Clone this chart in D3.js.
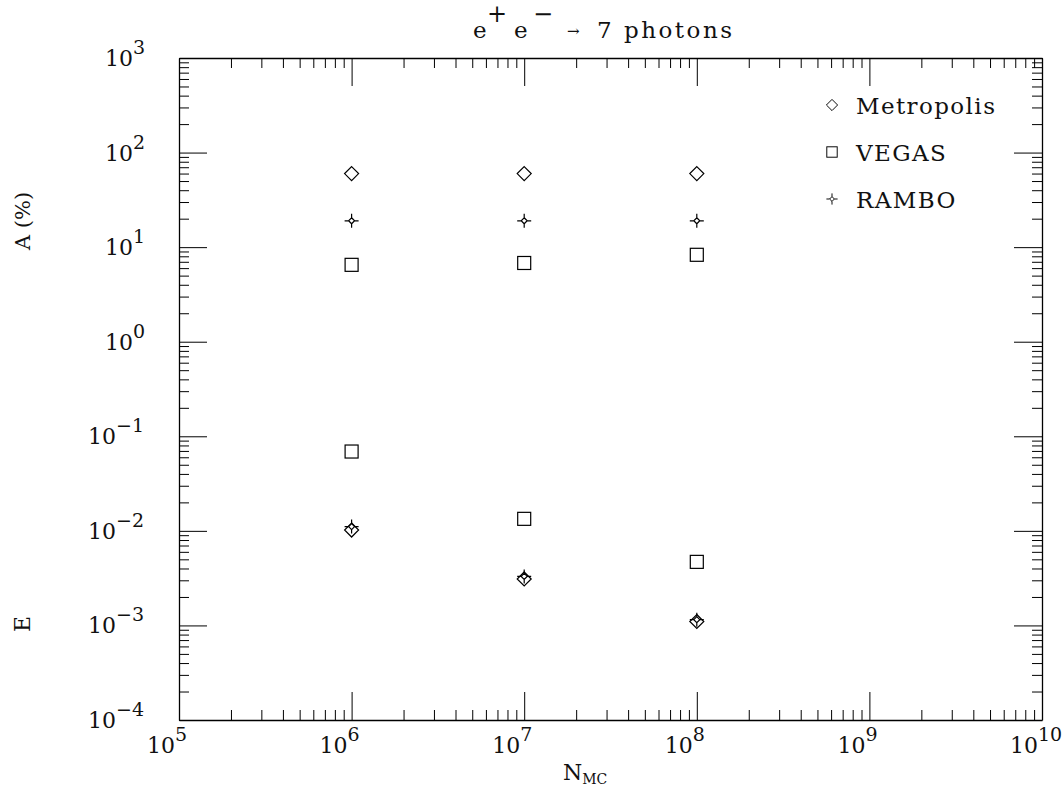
<!DOCTYPE html>
<html>
<head>
<meta charset="utf-8">
<script src="https://cdn.jsdelivr.net/npm/d3@7"></script>
<style>
  body { margin: 0; background: #fff; }
  text { font-family: "DejaVu Serif", serif; fill: #111; }
</style>
</head>
<body>
<svg id="canvas" width="1064" height="795"></svg>
<script>
// data
let nmc = [1e6, 1e7, 1e8]
let metroA = [60, 60, 60]
let vegasA = [6.5, 6.8, 8.3]
let ramboA = [19, 19, 19]
let metroE = [0.0102, 0.0031, 0.0011]
let vegasE = [0.069, 0.0134, 0.0047]
let ramboE = [0.0111, 0.0033, 0.00115]
let xDecades = [5, 6, 7, 8, 9, 10]
let yDecades = [-4, -3, -2, -1, 0, 1, 2, 3]
let legendNames = ['Metropolis', 'VEGAS', 'RAMBO']

let plotLeft = 179, plotRight = 1042, plotTop = 58, plotBottom = 720
let majorLen = 28, minorLen = 10

let svg = d3.select('#canvas')

let x = d3.scaleLog().domain([1e5, 1e10]).range([plotLeft, plotRight])
let y = d3.scaleLog().domain([1e-4, 1e3]).range([plotBottom, plotTop])

let isMajor = (v) => {
    let l = Math.log10(v)
    return Math.abs(l - Math.round(l)) < 1e-9
}

// axes on four sides, ticks pointing inside
let drawAxis = (axis, tr, sign, horiz) => {
    let g = svg.append('g').attr('transform', tr).call(axis)
    g.select('.domain').attr('stroke', '#000').attr('stroke-width', 1.3)
    g.selectAll('.tick line')
      .attr('stroke', '#000')
      .attr('stroke-width', 1)
      .attr(horiz ? 'y2' : 'x2', (d) => sign * (isMajor(d) ? majorLen : minorLen))
    g.selectAll('.tick text').remove()
}

let xt = x.ticks()
let yt = y.ticks()
drawAxis(d3.axisBottom(x).tickValues(xt).tickSizeOuter(0), 'translate(0,' + plotBottom + ')', -1, true)
drawAxis(d3.axisTop(x).tickValues(xt).tickSizeOuter(0), 'translate(0,' + plotTop + ')', 1, true)
drawAxis(d3.axisLeft(y).tickValues(yt).tickSizeOuter(0), 'translate(' + plotLeft + ',0)', 1, false)
drawAxis(d3.axisRight(y).tickValues(yt).tickSizeOuter(0), 'translate(' + plotRight + ',0)', -1, false)

// tick labels: 10 with superscript exponent
let powLabel = (sel) => {
    sel.append('tspan').text('10')
    sel.append('tspan')
       .attr('dy', -12)
       .attr('font-size', 19)
       .text((d) => String(d).replace('-', '\u2212'))
}

svg.selectAll('.xlab')
   .data(xDecades)
   .enter()
   .append('text')
   .attr('class', 'xlab')
   .attr('x', (d) => x(Math.pow(10, d)) - 32)
   .attr('y', plotBottom + 33)
   .attr('font-size', 22)
   .call(powLabel)

svg.selectAll('.ylab')
   .data(yDecades)
   .enter()
   .append('text')
   .attr('class', 'ylab')
   .attr('x', (d) => d < 0 ? 88 : 105)
   .attr('y', (d) => y(Math.pow(10, d)) + 8)
   .attr('font-size', 22)
   .call(powLabel)

// title e+ e- -> 7 photons
let title = svg.append('text').attr('y', 38).attr('font-size', 23)
title.append('tspan').attr('x', 473).text('e')
title.append('tspan').attr('x', 487).attr('dy', -16).attr('font-size', 24).text('+')
title.append('tspan').attr('x', 514).attr('dy', 16).text('e')
title.append('tspan').attr('x', 533).attr('dy', -16).attr('font-size', 24).text('\u2212')
title.append('tspan').attr('x', 567).attr('dy', 14).attr('font-size', 15).text('\u2192')
title.append('tspan').attr('x', 597).attr('dy', 2).attr('letter-spacing', 2.5).text('7 photons')

let xl = svg.append('text').attr('x', 563).attr('y', 780).attr('font-size', 22)
xl.append('tspan').text('N')
xl.append('tspan').attr('dy', 4).attr('font-size', 14).text('MC')

svg.append('text')
   .attr('transform', 'translate(30,221) rotate(-90)')
   .attr('text-anchor', 'middle')
   .attr('font-size', 21)
   .text('A (%)')
svg.append('text')
   .attr('transform', 'translate(30,624) rotate(-90)')
   .attr('text-anchor', 'middle')
   .attr('font-size', 22)
   .text('E')

// marker shapes
let diamond = (g) => g.append('path').attr('d', 'M0,-7L7,0L0,7L-7,0Z')
let square = (g) => g.append('rect').attr('x', -6.5).attr('y', -6.5).attr('width', 13).attr('height', 13)
let star = (g) => g.append('path')
    .attr('d', 'M0,-7L0,-3M0,3L0,7M-7,0L-3,0M3,0L7,0M0,-3L3,0L0,3L-3,0Z')

let markers = [diamond, square, star]

let drawSeries = (vals, shape) => {
    let g = svg.append('g')
    vals.forEach((v, i) => {
        let m = g.append('g').attr('transform', 'translate(' + x(nmc[i]) + ',' + y(v) + ')')
        shape(m).attr('fill', 'none').attr('stroke', '#000').attr('stroke-width', 1.2)
    })
}

drawSeries(metroA, diamond)
drawSeries(vegasA, square)
drawSeries(ramboA, star)
drawSeries(vegasE, square)
drawSeries(metroE, diamond)
drawSeries(ramboE, star)

// legend
let legend = svg.selectAll('.leg')
    .data(legendNames)
    .enter()
    .append('g')
    .attr('class', 'leg')
    .attr('transform', (d, i) => 'translate(832,' + (105 + i * 47) + ')')

legend.each(function (d, i) {
    let g = d3.select(this)
    markers[i](g.append('g').attr('transform', 'scale(0.8)'))
      .attr('fill', 'none').attr('stroke', '#000').attr('stroke-width', 1.2)
    g.append('text')
     .attr('x', 24)
     .attr('y', 9)
     .attr('font-size', 23)
     .attr('letter-spacing', 1.4)
     .text(d)
})
</script>
</body>
</html>
